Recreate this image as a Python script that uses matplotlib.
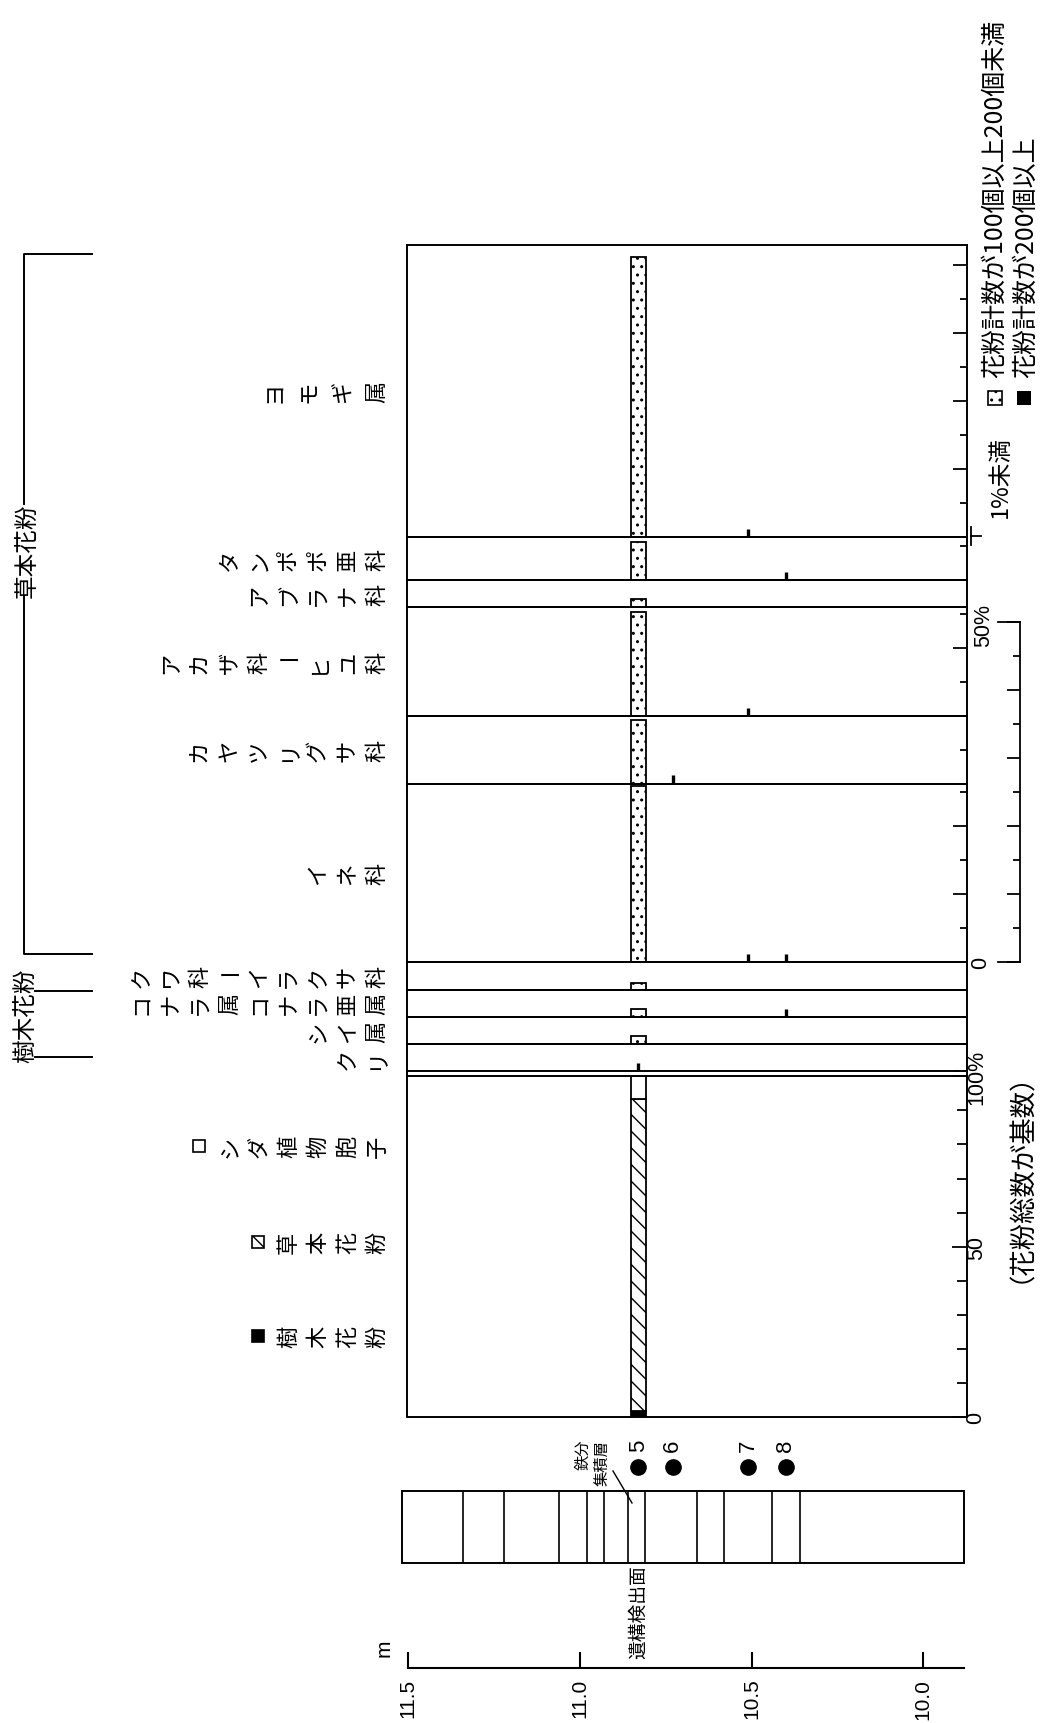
import matplotlib
matplotlib.use('Agg')
import matplotlib.pyplot as plt
from matplotlib.patches import Rectangle
from matplotlib.ticker import MultipleLocator

plt.rcParams['font.family'] = ['Noto Sans CJK JP', 'DejaVu Sans']
plt.rcParams['hatch.linewidth'] = 1.0
plt.rcParams['hatch.color'] = 'black'
NUM_FONT = ['Liberation Sans', 'DejaVu Sans']

# samples (elevation, m)
sample_no = [5, 6, 7, 8]
sample_depth = [10.83, 10.73, 10.51, 10.40]
analysed = 5

# taxa, top of the picture first (herbs, then trees)
taxa = ['ヨモギ属', 'タンポポ亜科', 'アブラナ科', 'アカザ科ーヒユ科',
        'カヤツリグサ科', 'イネ科',
        'クワ科ーイラクサ科', 'コナラ属コナラ亜属', 'シイ属', 'クリ']
col_max = [43, 6.3, 4, 16, 9.9, 26.3, 4, 4, 4, 4]
pct = [41.3, 5.6, 1.2, 15.3, 9.4, 26.0, 1.0, 1.2, 1.2, 0]
trace = [[7], [8], [], [7], [6], [7, 8], [], [8], [], [5]]   # 1%未満
n_herb = 6

# pollen sum (sample 5)
sum_labels = ['樹木花粉', '草本花粉', 'シダ植物胞子']
sum_pct = [1.8, 91.4, 6.8]

# lithology column
layer_bounds = [11.34, 11.22, 11.06, 10.98, 10.93, 10.86, 10.81,
                10.66, 10.58, 10.44, 10.36]
col_top, col_bottom = 11.52, 9.882
depth_ticks = [11.5, 11.0, 10.5, 10.0]
depth_labels = ['11.5', '11.0', '10.5', '10.0']

W, H = 1040, 1724
X0, X1 = 407, 967
D0, D1 = 11.504, 9.872
PX = 6.8          # pixels per percent
BAR_W = 0.044

fig = plt.figure(figsize=(W / 100, H / 100), dpi=100)


def rect(x0, y0, x1, y1):
    return [x0 / W, 1 - y1 / H, (x1 - x0) / W, (y1 - y0) / H]


ov = fig.add_axes([0, 0, 1, 1], zorder=0)
ov.set_xlim(0, W)
ov.set_ylim(H, 0)
ov.axis('off')


def stack(text, y, x_end=377, step=29.5, size=16):
    # vertical (tategaki) label, turned with the page
    n = len(text)
    if n == 4 and text.endswith('属') and step == 29.5:
        step = 34
    for i, ch in enumerate(text):
        x = x_end - (n - 1 - i) * step
        ov.text(x, y, ch, rotation=0 if ch == 'ー' else 90,
                ha='center', va='center', fontsize=size)


def panel(y0, y1, ymax):
    ax = fig.add_axes(rect(X0, y0, X1, y1), zorder=2)
    ax.set_xlim(D0, D1)
    ax.set_ylim(0, ymax)
    ax.patch.set_alpha(0)
    for s in ax.spines.values():
        s.set_linewidth(1.4)
    ax.set_xticks([])
    ax.yaxis.tick_right()
    ax.tick_params(axis='y', which='both', direction='in',
                   labelright=False, width=1.3)
    return ax


i5 = sample_no.index(analysed)
top = 246
for name, cmax, p, tr in zip(taxa, col_max, pct, trace):
    h = cmax * PX
    ax = panel(top, top + h, cmax)
    ax.yaxis.set_major_locator(MultipleLocator(10))
    ax.yaxis.set_minor_locator(MultipleLocator(5))
    ax.tick_params(axis='y', which='major', length=10)
    ax.tick_params(axis='y', which='minor', length=5)
    if p > 0:
        ax.bar(sample_depth[i5], p, width=BAR_W, facecolor='white',
               edgecolor='black', hatch='..', linewidth=1.3)
    for s in tr:
        ax.vlines(sample_depth[sample_no.index(s)], 0, 1.2,
                  color='black', linewidth=2.4)
    stack(name, top + h / 2)
    top += h

tree_bottom = top
sum_top = tree_bottom + 5
sum_bottom = sum_top + 341
ov.plot([X0, X0], [tree_bottom, sum_top], color='black', lw=1.4)
ov.plot([X1, X1], [tree_bottom, sum_top], color='black', lw=1.4)

# pollen sum panel
ax = panel(sum_top, sum_bottom, 100)
ax.yaxis.set_major_locator(MultipleLocator(50))
ax.yaxis.set_minor_locator(MultipleLocator(10))
ax.tick_params(axis='y', which='major', length=11)
ax.tick_params(axis='y', which='minor', length=7)
styles = [dict(facecolor='black'),
          dict(facecolor='white', hatch='\\\\'),
          dict(facecolor='white')]
bottom = 0
for v, st in zip(sum_pct, styles):
    ax.bar(sample_depth[i5], v, bottom=bottom, width=BAR_W,
           edgecolor='black', linewidth=1.3, **st)
    bottom += v

# legend for the sum panel
sum_rows = [1337, 1243, 1147]
for lab, st, y in zip(sum_labels, styles, sum_rows):
    n = len(lab)
    xp = 377 - n * 29.5 - 1
    ov.add_patch(Rectangle((xp - 6, y - 6), 12, 12, edgecolor='black',
                           linewidth=1.2, **st))
    stack(lab, y)

ov.text(976, sum_bottom, '0', rotation=90, ha='center', va='center',
        fontsize=15.5, family=NUM_FONT)
ov.text(977, sum_bottom - 50 * 3.41, '50', rotation=90, ha='center',
        va='center', fontsize=15.5, family=NUM_FONT)
ov.text(977, sum_top, '100%', rotation=90, ha='center', va='center',
        fontsize=15.5, family=NUM_FONT)
ov.text(1008, sum_top - 32, '（花粉総数が基数）', rotation=90, ha='center',
        va='top', fontsize=19)

# herb percent scale bar
herb_bottom = 246 + sum(col_max[:n_herb]) * PX
sb = fig.add_axes(rect(998, herb_bottom - 50 * PX, 1020, herb_bottom), zorder=2)
sb.set_ylim(0, 50)
sb.patch.set_alpha(0)
sb.spines['left'].set_visible(False)
for s in ['top', 'bottom', 'right']:
    sb.spines[s].set_linewidth(1.3)
sb.set_xticks([])
sb.yaxis.tick_right()
sb.yaxis.set_major_locator(MultipleLocator(10))
sb.yaxis.set_minor_locator(MultipleLocator(5))
sb.tick_params(axis='y', which='both', direction='in', labelright=False, width=1.3)
sb.tick_params(axis='y', which='major', length=9.5)
sb.tick_params(axis='y', which='minor', length=5)
ov.text(981, herb_bottom, '0', rotation=90, ha='center', va='center',
        fontsize=15.5, family=NUM_FONT)
ov.text(984, herb_bottom - 50 * PX + 2, '50%', rotation=90, ha='center',
        va='center', fontsize=15.5, family=NUM_FONT)

# top-right legend
ov.add_patch(Rectangle((988, 392), 14, 14, facecolor='white', edgecolor='black',
                       hatch='..', linewidth=1.2))
ov.text(995, 378, '花粉計数が100個以上200個未満', rotation=90, ha='center',
        va='bottom', fontsize=18)
ov.add_patch(Rectangle((1017, 392), 14, 14, facecolor='black'))
ov.text(1026, 378, '花粉計数が200個以上', rotation=90, ha='center',
        va='bottom', fontsize=18)
ov.plot([971, 971], [528, 546], color='black', lw=1.3)
ov.plot([971, 981], [537, 537], color='black', lw=1.3)
ov.text(1000, 518, '1%未満', rotation=90, ha='center', va='bottom', fontsize=17)

# group brackets
ov.plot([92, 24, 24], [255, 255, 505], color='black', lw=1.4)
ov.plot([24, 24, 92], [597, 955, 955], color='black', lw=1.4)
ov.text(27, 551, '草本花粉', rotation=90, ha='center', va='center', fontsize=17)
ov.plot([35, 92], [992, 992], color='black', lw=1.4)
ov.plot([35, 92], [1058, 1058], color='black', lw=1.4)
ov.text(26, 1016, '樹木花粉', rotation=90, ha='center', va='center', fontsize=17)

# lithology column and samples
axc = fig.add_axes(rect(X0, 1492, X1, 1564), zorder=2)
axc.set_xlim(D0, D1)
axc.set_ylim(0, 1)
axc.axis('off')
axc.add_patch(Rectangle((col_bottom, 0), col_top - col_bottom, 1, fill=False,
                        linewidth=1.4, clip_on=False))
axc.vlines(layer_bounds, 0, 1, color='black', linewidth=1.2)
axc.plot(sample_depth, [1.33] * len(sample_depth), 'o', ms=11, color='black',
         clip_on=False)
for n, d in zip(sample_no, sample_depth):
    axc.text(d, 1.64, str(n), rotation=90, ha='center', va='center',
             fontsize=16, family=NUM_FONT)
axc.text(sample_depth[i5], -0.02, '遺構検出面', rotation=90, ha='center',
         va='top', fontsize=13.5)
ov.text(583, 1440, '鉄分', rotation=90, ha='center', va='top', fontsize=11)
ov.text(602, 1440, '集積層', rotation=90, ha='center', va='top', fontsize=11)
ov.plot([613, 632], [1472, 1504], color='black', lw=1)

# elevation axis
axd = fig.add_axes(rect(X0, 1600, X1, 1669), zorder=2)
axd.set_xlim(D0, D1)
axd.patch.set_alpha(0)
for s in ['top', 'left', 'right']:
    axd.spines[s].set_visible(False)
axd.spines['bottom'].set_bounds(11.5, 9.88)
axd.spines['bottom'].set_linewidth(1.5)
axd.set_yticks([])
axd.set_xticks(depth_ticks, depth_labels, rotation=90, fontsize=15,
               family=NUM_FONT)
axd.tick_params(axis='x', direction='in', length=11.5, width=1.5, pad=7)
ov.text(384, 1648, 'm', rotation=90, ha='center', va='center', fontsize=15,
        family=NUM_FONT)

fig.savefig('out.png', dpi=100)
